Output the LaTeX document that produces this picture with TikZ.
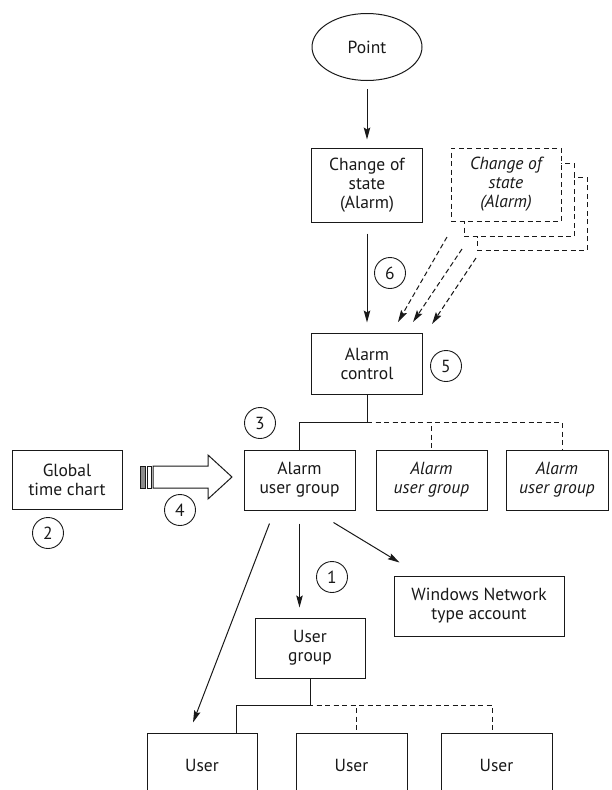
\documentclass[tikz,border=0pt]{standalone}
\usepackage{fontspec}
\setmainfont{PT Sans}
\usepackage{tikz}
\usetikzlibrary{shapes,shapes.geometric}
\usetikzlibrary{calc,arrows,arrows.meta,positioning}
\tikzset{
  box/.style={draw, fill=white, line width=1pt, align=center, minimum width=111pt, minimum height=60pt, inner sep=2pt, font=\fontsize{17.5}{19}\selectfont},
  ghostbox/.style={box, dash pattern=on 5pt off 3.5pt, font=\fontsize{17.5}{19}\selectfont\itshape},
  ellnode/.style={draw, ellipse, line width=1pt, minimum width=110pt, minimum height=67pt, font=\fontsize{17.5}{19}\selectfont},
  numcirc/.style={draw, circle, line width=0.9pt, minimum size=31pt, inner sep=0pt, font=\fontsize{17.5}{19}\selectfont},
  arr/.style={line width=1pt, -{Stealth[length=12pt,width=6.5pt,inset=2pt]}},
  dasharr/.style={arr, dash pattern=on 5pt off 3pt},
  bus/.style={line width=1pt},
  dashbus/.style={bus, dash pattern=on 5pt off 3.5pt}
}

\begin{document}
\begin{tikzpicture}[x=1pt,y=-1pt,black!90]
  \useasboundingbox (0,0) rectangle (611,790);
  \clip (0,0) rectangle (611,790);

  % top chain
  \node[ellnode] (point) at (367,47) {Point};
  \node[box, minimum height=74pt] (chg) at (367,185) {Change of\\state\\(Alarm)};
  \node[box, minimum height=61pt] (ctl) at (367,363.5) {Alarm\\control};

  % stacked copies, back to front
  \node[ghostbox, minimum width=110pt, minimum height=73pt] (chgc) at (532,213.5) {};
  \node[ghostbox, minimum width=110pt, minimum height=73pt] (chgb) at (519,200) {};
  \node[ghostbox, minimum width=110pt, minimum height=73pt] (chga) at (506,184.5) {Change of\\state\\(Alarm)};

  \draw[arr] (point) -- (chg) [shorten <=8pt, shorten >=8pt];
  \draw[arr, shorten <=11pt, shorten >=10pt] (chg) -- (ctl);

  \coordinate (da1) at (447,237);  \coordinate (db1) at (398,322);
  \coordinate (da2) at (462,249);  \coordinate (db2) at (413,322);
  \coordinate (da3) at (476,258);  \coordinate (db3) at (432,324);
  \foreach \i in {1,2,3}
    \draw[dasharr] (da\i) -- (db\i);

  % alarm user groups
  \node[box] (ug1) at (299.5,480) {Alarm\\user group};
  \node[box, font=\fontsize{17.5}{19}\selectfont\itshape] (ug2) at (431.5,480) {Alarm\\user group};
  \node[box, minimum width=102pt, font=\fontsize{17.5}{19}\selectfont\itshape] (ug3) at (557,480) {Alarm\\user group};

  \coordinate (cbus) at ($(ctl.south)+(0,28)$);
  \draw[bus] (ctl.south) -- (cbus) -| (ug1.north);
  \draw[dashbus] (cbus) -| (ug2.north);
  \draw[dashbus] (cbus) -| ([xshift=5pt]ug3.north);

  % time chart feed
  \node[box, minimum width=110pt, minimum height=59pt] (gtc) at (67,479.5) {Global\\time chart};
  \draw[line width=0.8pt, fill=black!45] (140,466) rectangle (145,488);
  \draw[line width=0.8pt] (147,466) rectangle (151,488);
  \draw[line width=1pt, fill=white] (153,466) -- (208,466) -- (208,455) -- (232,477)
    -- (208,499) -- (208,488) -- (153,488) -- cycle;

  % accounts
  \node[box, minimum width=170pt] (win) at (479,606) {Windows Network\\type account};
  \node[box, minimum width=110pt] (grp) at (310,648) {User\\group};

  \draw[arr] ([yshift=-13pt]ug1.south) -- ([yshift=10pt]ug1.south |- grp.north);
  \draw[arr] ([xshift=34pt,yshift=-12pt]ug1.south) -- ([xshift=6pt,yshift=13pt]win.north west);

  % users
  \node[box, minimum width=110pt, minimum height=64pt] (u1) at (202,765) {User};
  \node[box, minimum width=111pt, minimum height=64pt] (u2) at (351.5,765) {User};
  \node[box, minimum width=111pt, minimum height=64pt] (u3) at (496.5,765) {User};

  \draw[arr] ([xshift=-30pt,yshift=-13pt]ug1.south) -- ([xshift=-9pt,yshift=10pt]u1.north);

  \coordinate (gbus) at ($(grp.south)+(-2,27)$);
  \draw[bus] (grp.south) -- ++(0,27) -| ([xshift=34pt]u1.north);
  \draw[dashbus] (gbus) -| ([xshift=5pt]u2.north);
  \draw[dashbus] (gbus) -| ([xshift=-4pt]u3.north);

  % step numbers
  \node[numcirc] (n1) at (332,577) {1};
  \node[numcirc] (n2) at (48,533) {2};
  \node[numcirc] (n3) at (260,423) {3};
  \node[numcirc] (n4) at (180,510) {4};
  \node[numcirc] (n5) at (446,366) {5};
  \node[numcirc] (n6) at (390,273) {6};
\end{tikzpicture}
\end{document}
